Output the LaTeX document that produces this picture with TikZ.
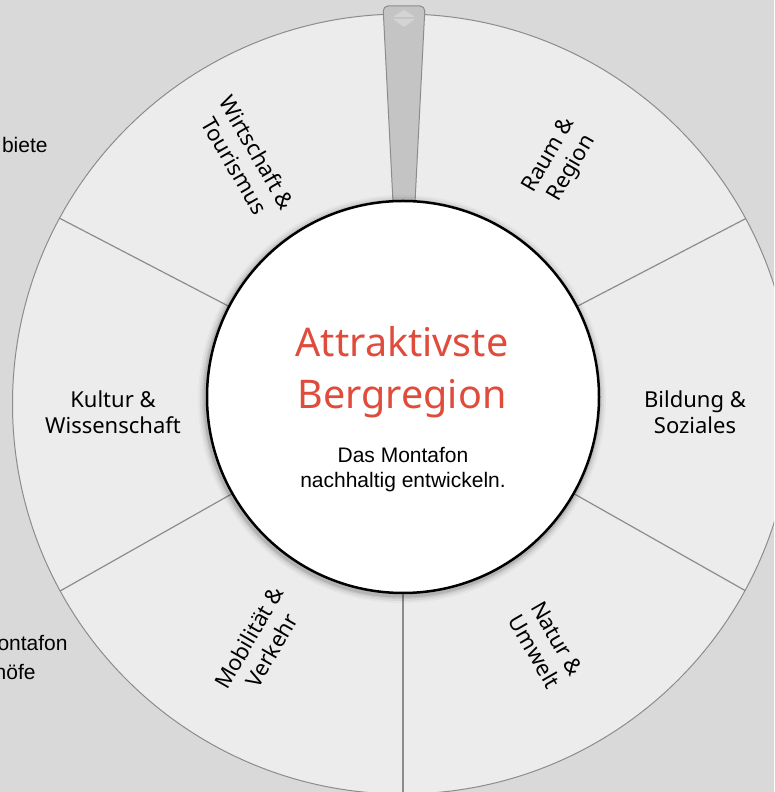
\documentclass[tikz,border=0pt]{standalone}
\usepackage{fontspec}
\setmainfont{Noto Sans}
\newfontfamily\arialfont{Liberation Sans}
\definecolor{hintergrund}{HTML}{D9D9D9}
\definecolor{feldgrau}{HTML}{ECECEC}
\definecolor{randgrau}{HTML}{8C8C8C}
\definecolor{zeigergrau}{HTML}{C4C4C4}
\definecolor{pfeilgrau}{HTML}{D4D4D4}
\definecolor{titelrot}{HTML}{E04C3C}

\begin{document}
\begin{tikzpicture}[x=1pt, y=1pt, thick]

    % Styles
    \tikzstyle{feld}=[align=center, inner sep=0pt, font=\fontsize{22}{26}\selectfont]
    \tikzstyle{trenner}=[draw=randgrau, line width=1.2pt]
    \tikzstyle{rest}=[align=center, inner sep=0pt, font=\arialfont\fontsize{21}{25}\selectfont]

    % Hintergrund
    \fill[hintergrund] (0,0) rectangle (774,792);
    \clip (0,0) rectangle (774,792);
    \coordinate (c) at (403,395);
    \coordinate (o) at (402.5,388);

    % Text links (abgeschnitten)
    \node[rest, anchor=east] (gebiete) at (48,647) {biete};
    \node[rest, anchor=east] (montafon) at (68,149) {ontafon};
    \node[rest, anchor=east] (hoefe) at (36,120) {höfe};

    % Rad
    \fill[feldgrau] (o) circle[radius=390];
    \begin{scope}
        \clip (o) circle[radius=390];
        \foreach \w in {27.5, 90, 152.5, 209.5, 270, 330.5}
            \draw[trenner, shift={(c)}] (\w:190) -- (\w:420);
    \end{scope}
    \draw[randgrau, line width=1pt] (o) circle[radius=390];

    % Felder
    \node[feld, rotate=60] (raum) at (561,630) {Raum \&\\Region};
    \node[feld] (bildung) at (695,380) {Bildung \&\\Soziales};
    \node[feld, rotate=-60] (natur) at (546,147) {Natur \&\\Umwelt};
    \node[feld, rotate=60] (mobil) at (260,148) {Mobilität \&\\Verkehr};
    \node[feld] (kultur) at (113,380) {Kultur \&\\Wissenschaft};
    \node[feld, rotate=-60] (wirtschaft) at (246,633) {Wirtschaft \&\\Tourismus};

    % Zeiger
    \filldraw[fill=zeigergrau, draw=randgrau, line width=1pt, rounded corners=5]
        (394,570) -- (383,786) -- (425,786) -- (414,570) -- cycle;
    \fill[pfeilgrau] (393,775) -- (404,782) -- (415,775) -- cycle;
    \fill[pfeilgrau] (393,773) -- (404,765) -- (415,773) -- cycle;

    % Mitte
    \foreach \r/\o in {204/0.03, 202/0.05, 200/0.07, 198.5/0.1}
        \fill[black, opacity=\o] ([shift={(-1,-2)}]c) circle[radius=\r];
    \node[circle, draw, fill=white, line width=2.5pt, minimum size=392pt, inner sep=0pt] (mitte) at (c) {};
    \node[align=center, inner sep=0pt, text=titelrot, font=\fontsize{39.5}{52}\selectfont] (titel) at (402,420) {Attraktivste\\Bergregion};
    \node[rest] (untertitel) at (403,322) {Das Montafon\\nachhaltig entwickeln.};

\end{tikzpicture}
\end{document}
